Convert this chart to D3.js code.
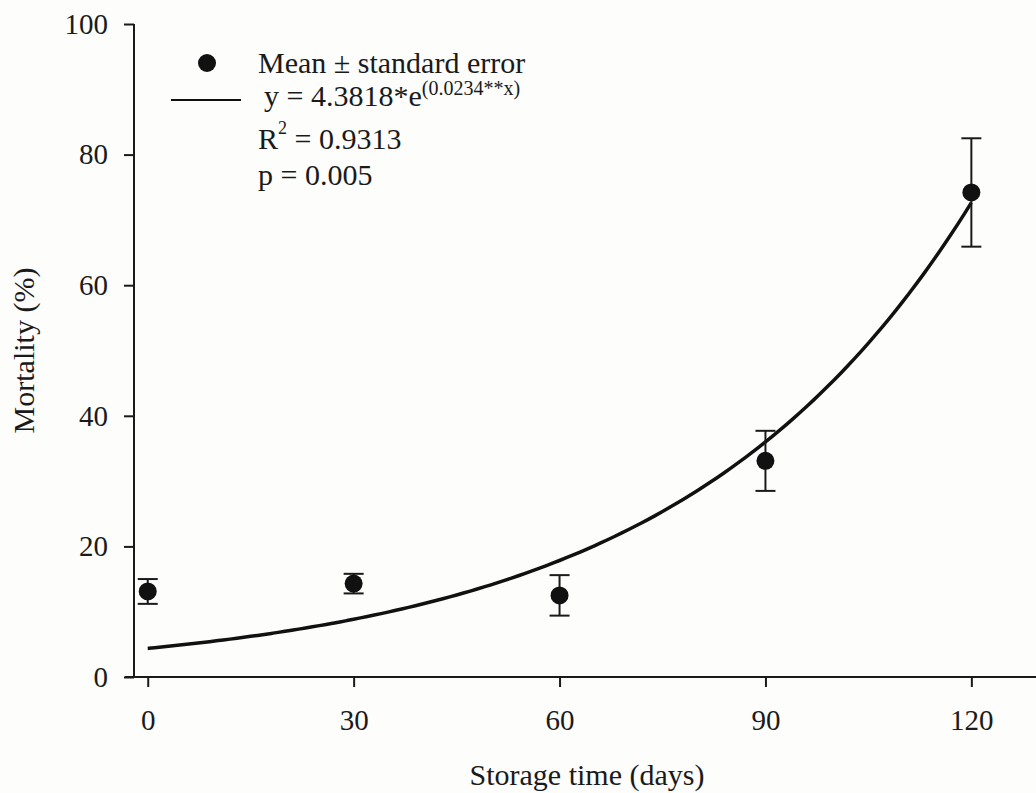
<!DOCTYPE html>
<html>
<head>
<meta charset="utf-8">
<script src="https://cdn.jsdelivr.net/npm/d3@7"></script>
<style>
  html, body { margin: 0; padding: 0; background: #fdfdfb; }
  svg text { font-family: "Liberation Serif", "Times New Roman", Times, "DejaVu Serif", serif !important; }
</style>
</head>
<body>
<svg id="chart" width="1036" height="793"></svg>
<script>
// data
const days = [0, 30, 60, 90, 120];
const mortality = [13.1, 14.3, 12.5, 33.1, 74.2];
const stdErr = [1.9, 1.5, 3.1, 4.6, 8.3];
const xTicks = [0, 30, 60, 90, 120];
const yTicks = [0, 20, 40, 60, 80, 100];
// fitted curve y = a * e^(b*x)
const fitA = 4.3818;
const fitB = 0.0234;

const W = 1036, H = 793;
const svg = d3.select("#chart");
svg.append("rect").attr("width", W).attr("height", H).attr("fill", "#fdfdfb");

const x = d3.scaleLinear().domain([-2, 130]).range([134, 1040]);
const y = d3.scaleLinear().domain([0, 100]).range([677, 24]);
const ink = "#1a1a1a";

// axes
const gx = svg.append("g").attr("transform", `translate(0,${y(0)})`)
  .call(d3.axisBottom(x).tickValues(xTicks).tickSize(10).tickPadding(22).tickSizeOuter(0));
gx.select(".domain").remove();
gx.selectAll(".tick line").attr("stroke", ink).attr("stroke-width", 2);
gx.selectAll(".tick text").attr("fill", ink).attr("font-size", 29);
gx.append("line").attr("x1", 125).attr("x2", W).attr("y1", 0).attr("y2", 0)
  .attr("stroke", ink).attr("stroke-width", 2);

const gy = svg.append("g").attr("transform", `translate(${x(-2)},0)`)
  .call(d3.axisLeft(y).tickValues(yTicks).tickSize(10).tickPadding(16).tickSizeOuter(0));
gy.select(".domain").remove();
gy.selectAll(".tick line").attr("stroke", ink).attr("stroke-width", 2);
gy.selectAll(".tick text").attr("fill", ink).attr("font-size", 29);
gy.append("line").attr("x1", 0).attr("x2", 0).attr("y1", y(100)).attr("y2", y(0))
  .attr("stroke", ink).attr("stroke-width", 2);

// axis titles
svg.append("text").attr("x", 587).attr("y", 785).attr("text-anchor", "middle")
  .attr("font-size", 30).attr("fill", ink).text("Storage time (days)");
svg.append("text").attr("transform", `translate(34,${(y(0) + y(100)) / 2}) rotate(-90)`)
  .attr("text-anchor", "middle").attr("font-size", 30).attr("fill", ink).text("Mortality (%)");

// fitted curve
const curvePts = d3.range(0, 120.5, 1).map(d => [d, fitA * Math.exp(fitB * d)]);
svg.append("path").datum(curvePts)
  .attr("fill", "none").attr("stroke", "#111").attr("stroke-width", 3.5)
  .attr("d", d3.line().x(d => x(d[0])).y(d => y(d[1])).curve(d3.curveMonotoneX));

// error bars
const pts = days.map((d, i) => ({ d, m: mortality[i], se: stdErr[i] }));
const eb = svg.append("g").attr("stroke", ink).attr("stroke-width", 2);
pts.forEach(p => {
  const cx = x(p.d);
  eb.append("line").attr("x1", cx).attr("x2", cx).attr("y1", y(p.m + p.se)).attr("y2", y(p.m - p.se));
  eb.append("line").attr("x1", cx - 10).attr("x2", cx + 10).attr("y1", y(p.m + p.se)).attr("y2", y(p.m + p.se));
  eb.append("line").attr("x1", cx - 10).attr("x2", cx + 10).attr("y1", y(p.m - p.se)).attr("y2", y(p.m - p.se));
});

// points
svg.append("g").selectAll("circle").data(pts).join("circle")
  .attr("cx", p => x(p.d)).attr("cy", p => y(p.m)).attr("r", 9).attr("fill", "#111");

// legend
const lg = svg.append("g").attr("fill", ink).attr("font-size", 30);
lg.append("circle").attr("cx", 207).attr("cy", 63).attr("r", 9).attr("fill", "#111");
lg.append("line").attr("x1", 171).attr("x2", 241).attr("y1", 100).attr("y2", 100)
  .attr("stroke", "#111").attr("stroke-width", 2);
lg.append("text").attr("x", 258).attr("y", 73).text("Mean \u00b1 standard error");
const eq = lg.append("text").attr("x", 264).attr("y", 106);
eq.append("tspan").text(`y = ${fitA}*e`);
eq.append("tspan").attr("dy", -11).attr("font-size", 20).text(`(${fitB}**x)`);
const r2 = lg.append("text").attr("x", 258).attr("y", 149);
r2.append("tspan").text("R");
r2.append("tspan").attr("dy", -15).attr("font-size", 18).text("2");
r2.append("tspan").attr("dy", 15).text(" = 0.9313");
lg.append("text").attr("x", 258).attr("y", 185).text("p = 0.005");
</script>
</body>
</html>
